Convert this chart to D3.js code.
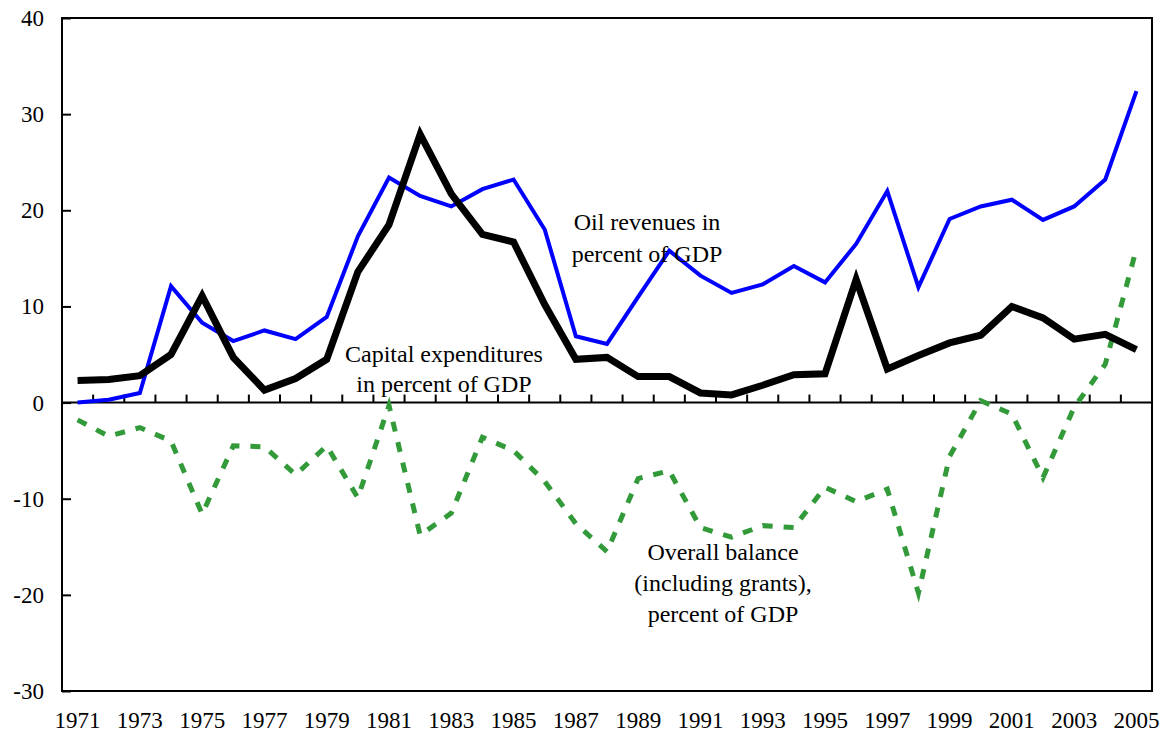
<!DOCTYPE html>
<html>
<head>
<meta charset="utf-8">
<script src="https://cdn.jsdelivr.net/npm/d3@7"></script>
</head>
<body style="margin:0">
<svg id="chart" width="1168" height="743"></svg>
<script>
// years on the category axis
var years = d3.range(1971, 2006);

// oil revenues, percent of GDP (blue)
var oilRevenues = [0.0, 0.3, 1.0, 12.1, 8.3, 6.4, 7.5, 6.6, 8.9, 17.3,
    23.4, 21.5, 20.4, 22.2, 23.2, 18.0, 6.9, 6.1, 11.0, 15.8,
    13.2, 11.4, 12.3, 14.2, 12.5, 16.5, 22.0, 12.0, 19.1, 20.4,
    21.1, 19.0, 20.4, 23.2, 32.4];

// capital expenditures, percent of GDP (black)
var capitalExp = [2.3, 2.4, 2.8, 5.0, 11.1, 4.7, 1.3, 2.5, 4.5, 13.6,
    18.5, 27.9, 21.7, 17.5, 16.7, 10.2, 4.5, 4.7, 2.7, 2.7,
    1.0, 0.8, 1.8, 2.9, 3.0, 12.8, 3.5, 4.9, 6.2, 7.0,
    10.0, 8.8, 6.6, 7.1, 5.5];

// overall balance incl. grants, percent of GDP (green dotted)
var overallBalance = [-1.8, -3.5, -2.6, -4.0, -11.6, -4.5, -4.6, -7.5, -4.5, -9.9,
    -0.3, -13.8, -11.5, -3.6, -5.0, -8.2, -12.6, -15.5, -7.9, -7.1,
    -13.0, -14.0, -12.8, -13.0, -8.8, -10.3, -9.0, -19.8, -5.6, 0.2,
    -1.2, -7.8, -0.5, 4.0, 16.0];

var yTicks = [-30, -20, -10, 0, 10, 20, 30, 40];
var xLabelYears = years.filter(function (d) { return d % 2 === 1; });

var labels = [
    { lines: ["Oil revenues in", "percent of GDP"], x: 647, y: 230, gap: 32 },
    { lines: ["Capital expenditures", "in percent of GDP"], x: 444, y: 362, gap: 30 },
    { lines: ["Overall balance", "(including grants),", "percent of GDP"], x: 723, y: 560, gap: 31 }
];

var margin = { top: 18, right: 16, bottom: 52, left: 62 };
var width = 1168 - margin.left - margin.right;
var height = 743 - margin.top - margin.bottom;

var svg = d3.select("#chart");
var g = svg.append("g")
    .attr("transform", "translate(" + margin.left + "," + margin.top + ")");

var x = d3.scaleBand().domain(years).range([0, width]).padding(0);
var y = d3.scaleLinear().domain([-30, 40]).range([height, 0]);
var cx = function (yr) { return x(yr) + x.bandwidth() / 2; };

// frame
g.append("rect")
    .attr("width", width)
    .attr("height", height)
    .attr("fill", "none")
    .attr("stroke", "#000")
    .attr("stroke-width", 2);

// y axis: ticks pointing inside, labels drawn by hand below
var yAxis = g.append("g")
    .call(d3.axisLeft(y).tickValues(yTicks).tickSize(-9).tickFormat(""));
yAxis.select(".domain").remove();
yAxis.selectAll("line").attr("stroke-width", 2);

g.append("g").selectAll("text")
    .data(yTicks)
    .enter().append("text")
    .attr("font-family", "Liberation Serif")
    .attr("font-size", 23)
    .attr("text-anchor", "end")
    .attr("x", -18)
    .attr("y", function (d) { return y(d); })
    .attr("dy", "0.35em")
    .text(function (d) { return String(d); });

// zero line with upward ticks at category boundaries
g.append("line")
    .attr("x1", 0).attr("x2", width)
    .attr("y1", y(0)).attr("y2", y(0))
    .attr("stroke", "#000").attr("stroke-width", 2);

g.append("g").selectAll("line")
    .data(years.slice(1))
    .enter().append("line")
    .attr("x1", function (d) { return x(d); })
    .attr("x2", function (d) { return x(d); })
    .attr("y1", y(0))
    .attr("y2", y(0) - 8)
    .attr("stroke", "#000")
    .attr("stroke-width", 2);

// year labels under the frame
g.append("g").selectAll("text")
    .data(xLabelYears)
    .enter().append("text")
    .attr("font-family", "Liberation Serif")
    .attr("font-size", 23)
    .attr("text-anchor", "middle")
    .attr("x", function (d) { return cx(d); })
    .attr("y", height + 37)
    .text(function (d) { return String(d); });

function drawLine(values, color, w, dash) {
    var line = d3.line()
        .x(function (d, i) { return cx(years[i]); })
        .y(function (d) { return y(d); });
    var p = g.append("path")
        .datum(values)
        .attr("d", line)
        .attr("fill", "none")
        .attr("stroke", color)
        .attr("stroke-width", w)
        .attr("stroke-linejoin", "miter");
    if (dash) p.attr("stroke-dasharray", dash);
}

drawLine(overallBalance, "#339a3a", 5, "10,11");
drawLine(oilRevenues, "#0000ff", 4);
drawLine(capitalExp, "#000000", 7);

// annotations
labels.forEach(function (l) {
    var t = svg.append("text")
        .attr("text-anchor", "middle")
        .attr("font-family", "Liberation Serif")
        .attr("font-size", 24);
    l.lines.forEach(function (s, i) {
        t.append("tspan")
            .attr("x", l.x)
            .attr("y", l.y + i * l.gap)
            .text(s);
    });
});
</script>
</body>
</html>
